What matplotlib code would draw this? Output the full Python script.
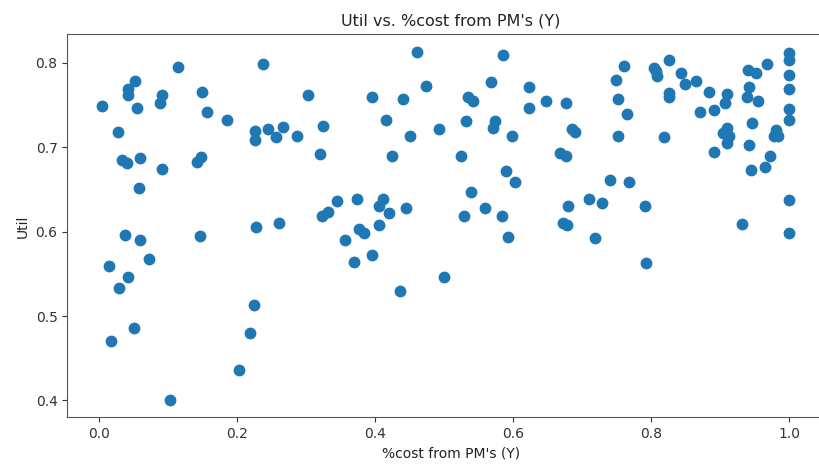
import numpy as np
import matplotlib
matplotlib.use("Agg")
import matplotlib.pyplot as plt

# share of cost coming from PMs (x) and utilisation (y), one entry per project
pct_cost_pm = [
    0.004, 0.015, 0.017, 0.027, 0.029, 0.033, 0.040, 0.038, 0.042, 0.042,
    0.042, 0.052, 0.055, 0.059, 0.058, 0.059, 0.051, 0.073, 0.091, 0.088,
    0.091, 0.102, 0.115, 0.149, 0.156, 0.142, 0.147, 0.146, 0.185, 0.202,
    0.218, 0.225, 0.226, 0.226, 0.227, 0.238, 0.245, 0.256, 0.267, 0.260,
    0.287, 0.302, 0.320, 0.325, 0.323, 0.331, 0.345, 0.356, 0.369, 0.373,
    0.376, 0.383, 0.396, 0.396, 0.405, 0.406, 0.411, 0.420, 0.416, 0.424,
    0.436, 0.440, 0.445, 0.450, 0.460, 0.473, 0.492, 0.500, 0.524, 0.532,
    0.534, 0.542, 0.529, 0.538, 0.559, 0.567, 0.574, 0.571, 0.585, 0.583,
    0.590, 0.592, 0.598, 0.603, 0.623, 0.623, 0.647, 0.667, 0.676, 0.676,
    0.672, 0.678, 0.679, 0.685, 0.690, 0.710, 0.719, 0.729, 0.740, 0.749,
    0.752, 0.752, 0.761, 0.765, 0.768, 0.790, 0.792, 0.804, 0.806, 0.808,
    0.818, 0.825, 0.826, 0.825, 0.843, 0.848, 0.865, 0.870, 0.883, 0.890,
    0.890, 0.910, 0.907, 0.904, 0.910, 0.912, 0.909, 0.931, 0.940, 0.941,
    0.938, 0.941, 0.944, 0.946, 0.951, 0.954, 0.965, 0.968, 0.972, 0.980,
    0.978, 0.984, 1.000, 1.000, 1.000, 1.000, 1.000, 1.000, 1.000, 1.000,
]
util = [
    0.749, 0.559, 0.471, 0.718, 0.533, 0.685, 0.682, 0.596, 0.769, 0.762,
    0.546, 0.779, 0.747, 0.687, 0.652, 0.590, 0.486, 0.568, 0.762, 0.753,
    0.674, 0.401, 0.795, 0.766, 0.742, 0.683, 0.689, 0.595, 0.733, 0.436,
    0.480, 0.513, 0.719, 0.709, 0.606, 0.799, 0.722, 0.712, 0.724, 0.610,
    0.713, 0.762, 0.692, 0.725, 0.619, 0.623, 0.637, 0.590, 0.564, 0.639,
    0.603, 0.599, 0.760, 0.572, 0.608, 0.631, 0.639, 0.622, 0.733, 0.690,
    0.530, 0.757, 0.628, 0.713, 0.813, 0.773, 0.722, 0.546, 0.690, 0.731,
    0.760, 0.755, 0.619, 0.647, 0.628, 0.777, 0.731, 0.723, 0.810, 0.619,
    0.672, 0.594, 0.713, 0.659, 0.771, 0.747, 0.755, 0.693, 0.690, 0.753,
    0.610, 0.608, 0.631, 0.722, 0.718, 0.639, 0.592, 0.634, 0.661, 0.780,
    0.757, 0.714, 0.797, 0.740, 0.659, 0.630, 0.563, 0.794, 0.790, 0.784,
    0.712, 0.804, 0.764, 0.760, 0.788, 0.775, 0.779, 0.742, 0.766, 0.744,
    0.695, 0.763, 0.753, 0.717, 0.723, 0.713, 0.705, 0.609, 0.792, 0.772,
    0.760, 0.703, 0.673, 0.729, 0.788, 0.755, 0.677, 0.799, 0.690, 0.721,
    0.714, 0.714, 0.812, 0.803, 0.786, 0.769, 0.746, 0.733, 0.638, 0.599,
]

fig = plt.figure(figsize=(8.19, 4.70), dpi=100)
# axes run past the right edge of the canvas, so the right spine is cut off
ax = fig.add_axes([0.0822, 0.112, 0.9374, 0.815])
ax.scatter(pct_cost_pm, util, s=56, color="#1f77b4")
ax.set_xlim(-0.046, 1.066)
ax.set_ylim(0.380, 0.834)
ax.set_xticks([0.0, 0.2, 0.4, 0.6, 0.8, 1.0])
ax.set_yticks([0.4, 0.5, 0.6, 0.7, 0.8])
ax.tick_params(labelsize=10, colors="#333333")
ax.set_title("Util vs. %cost from PM's (Y)", fontsize=11.5, pad=6, color="#222222")
ax.set_xlabel("%cost from PM's (Y)", fontsize=10, color="#222222")
ax.set_ylabel("Util", fontsize=10, color="#222222")
for s in ax.spines.values():
    s.set_color("#555555")

fig.savefig("out.png", dpi=100)
